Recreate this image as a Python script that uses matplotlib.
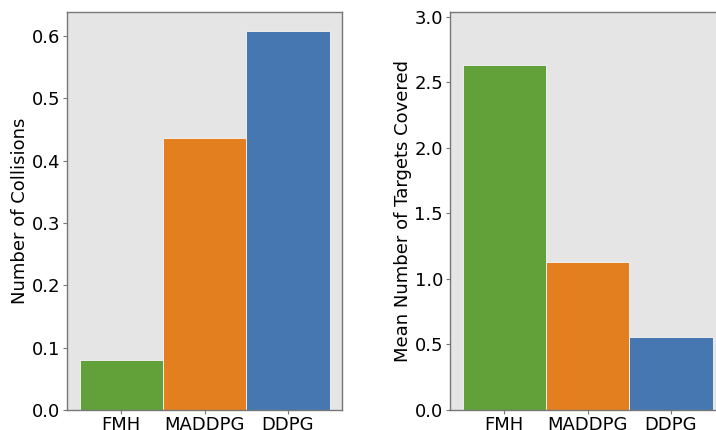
import matplotlib
matplotlib.use("Agg")
import matplotlib.pyplot as plt

methods = ["FMH", "MADDPG", "DDPG"]
collisions = [0.080, 0.436, 0.608]
targets_covered = [2.63, 1.13, 0.553]
bar_colors = ["#62a03a", "#e37f1e", "#4677b1"]

fig = plt.figure(figsize=(7.16, 4.30), dpi=100)
ax1 = fig.add_axes([67 / 716, 20 / 430, 275 / 716, 398 / 430])
ax2 = fig.add_axes([450 / 716, 20 / 430, 275 / 716, 398 / 430])

FS = 13

for ax, vals, label in [
    (ax1, collisions, "Number of Collisions"),
    (ax2, targets_covered, "Mean Number of Targets Covered"),
]:
    ax.set_facecolor("#e5e5e5")
    ax.bar(range(len(methods)), vals, width=1.0, color=bar_colors,
           edgecolor="#eeeeee", linewidth=0.7)
    ax.set_xticks(range(len(methods)))
    ax.set_xticklabels(methods, fontsize=FS)
    ax.tick_params(axis="y", labelsize=FS, color="#777777", length=3, pad=2)
    ax.tick_params(axis="x", color="#777777", length=3, pad=1.5)
    ax.set_ylabel(label, fontsize=FS, labelpad=2)
    for sp in ax.spines.values():
        sp.set_color("#777777")
        sp.set_linewidth(1.0)

ax1.set_yticks([0.0, 0.1, 0.2, 0.3, 0.4, 0.5, 0.6])
ax2.set_yticks([0.0, 0.5, 1.0, 1.5, 2.0, 2.5, 3.0])
ax2.set_ylim(0, 3.035)

fig.savefig("out.png", dpi=100)
